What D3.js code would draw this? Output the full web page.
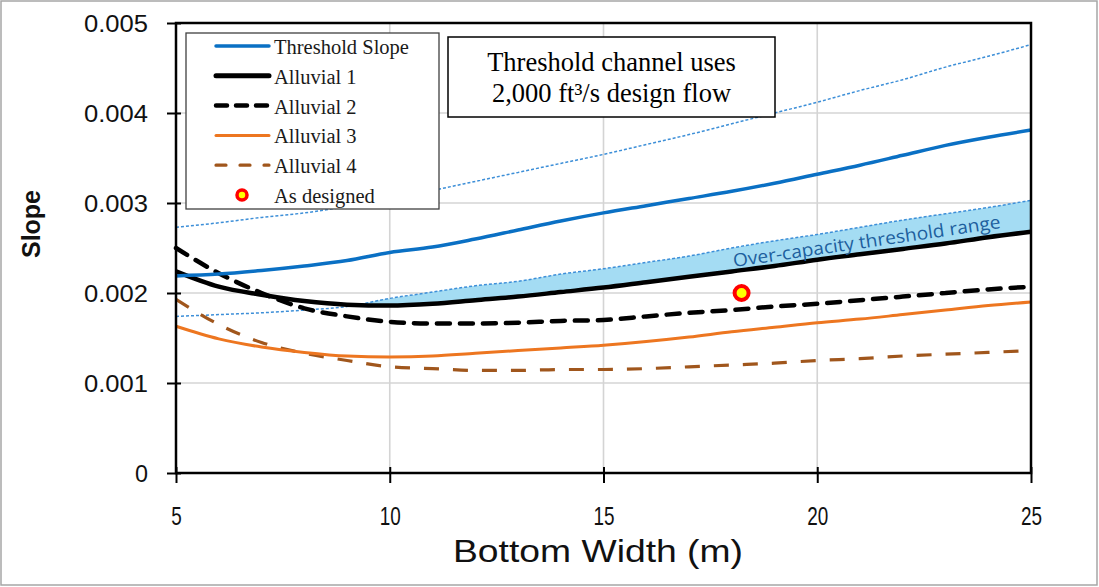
<!DOCTYPE html>
<html><head><meta charset="utf-8">
<script src="https://cdn.jsdelivr.net/npm/d3@7"></script>
<style>html,body{margin:0;padding:0;background:#fff;}svg{display:block;}</style>
</head><body>
<svg id="chart" width="1099" height="587"></svg>
<script>
// ---- data ----
const bottomWidth = [5,6,7,8,9,10,11,12,13,14,15,16,17,18,19,20,21,22,23,24,25];
const thresholdSlope = [0.00219,0.00221,0.00225,0.00230,0.00236,0.00245,0.00251,0.00260,0.00270,0.00280,0.00289,0.00297,0.00305,0.00313,0.00322,0.00332,0.00342,0.00353,0.00364,0.00373,0.00381];
const thresholdUpper = [0.00273,0.00278,0.00284,0.00289,0.00296,0.00305,0.00314,0.00324,0.00334,0.00344,0.00354,0.00365,0.00376,0.00388,0.00400,0.00412,0.00425,0.00437,0.00451,0.00463,0.00476];
const thresholdLower = [0.00174,0.00176,0.00178,0.00181,0.00185,0.00194,0.00201,0.00208,0.00213,0.00221,0.00227,0.00234,0.00241,0.00250,0.00258,0.00265,0.00273,0.00281,0.00288,0.00295,0.00303];
const alluvial1 = [0.00224,0.00207,0.00198,0.00191,0.00187,0.00186,0.00188,0.00192,0.00196,0.00201,0.00206,0.00212,0.00218,0.00224,0.00230,0.00237,0.00243,0.00249,0.00255,0.00262,0.00268];
const alluvial2 = [0.00250,0.00222,0.00200,0.00183,0.00174,0.00168,0.00166,0.00166,0.00167,0.00169,0.00170,0.00174,0.00178,0.00181,0.00185,0.00188,0.00192,0.00196,0.00200,0.00204,0.00207];
const alluvial3 = [0.00163,0.00149,0.00140,0.00134,0.00130,0.00129,0.00130,0.00133,0.00136,0.00139,0.00142,0.00146,0.00151,0.00157,0.00162,0.00167,0.00171,0.00176,0.00181,0.00186,0.00190];
const alluvial4 = [0.00193,0.00165,0.00145,0.00133,0.00125,0.00118,0.00116,0.00114,0.00114,0.00115,0.00115,0.00116,0.00118,0.00120,0.00122,0.00125,0.00127,0.00130,0.00132,0.00134,0.00136];
const asDesigned = [{x: 18.23, y: 0.0020}];
const xTicks = [5,10,15,20,25];
const yTicks = [0,0.001,0.002,0.003,0.004,0.005];
const legendLabels = ["Threshold Slope","Alluvial 1","Alluvial 2","Alluvial 3","Alluvial 4","As designed"];
const noteLines = ["Threshold channel uses","2,000 ft\u00B3/s design flow"];
const bandLabel = "Over-capacity threshold range";

// ---- layout ----
const svg = d3.select("#chart");
const L = 176, R = 1031, T = 23, B = 473;
const x = d3.scaleLinear().domain([5,25]).range([L,R]);
const y = d3.scaleLinear().domain([0,0.005]).range([B,T]);

// outer border
svg.append("rect").attr("x",1).attr("y",1).attr("width",1096).attr("height",584)
  .attr("fill","#fff").attr("stroke","#a6a6a6").attr("stroke-width",1.5);

// gridlines
const g = svg.append("g");
g.selectAll(".gx").data(xTicks.slice(1,-1)).join("line")
  .attr("x1",d=>x(d)).attr("x2",d=>x(d)).attr("y1",T).attr("y2",B)
  .attr("stroke","#d4d4d4").attr("stroke-width",1.6);
g.selectAll(".gy").data(yTicks.slice(1,-1)).join("line")
  .attr("y1",d=>y(d)).attr("y2",d=>y(d)).attr("x1",L).attr("x2",R)
  .attr("stroke","#d4d4d4").attr("stroke-width",1.6);

const idx = d3.range(bottomWidth.length);
const curve = d3.curveMonotoneX;

// shaded band between Alluvial 1 and lower threshold line
const band = d3.area().curve(curve)
  .x(i=>x(bottomWidth[i]))
  .y0(i=>y(alluvial1[i]))
  .y1(i=>y(Math.max(alluvial1[i], thresholdLower[i])));
g.append("path").attr("d", band(idx)).attr("fill","#a4dcf3");

function lineOf(arr){ return d3.line().curve(curve).x(i=>x(bottomWidth[i])).y(i=>y(arr[i]))(idx); }

// thin dotted threshold bounds
[thresholdUpper, thresholdLower].forEach(a=>{
  g.append("path").attr("d",lineOf(a)).attr("fill","none")
   .attr("stroke","#3d8fd8").attr("stroke-width",1.5).attr("stroke-dasharray","3,2");
});

const series = [
  {data: alluvial4, color:"#a0561c", w:3.2, dash:"15,14", cap:"butt"},
  {data: alluvial3, color:"#ed7620", w:3, dash:null, cap:"butt"},
  {data: alluvial2, color:"#000", w:4.5, dash:"13,10", cap:"round"},
  {data: alluvial1, color:"#000", w:4.5, dash:null, cap:"butt"},
  {data: thresholdSlope, color:"#0a70c4", w:3.5, dash:null, cap:"butt"}
];
series.forEach(s=>{
  g.append("path").attr("d",lineOf(s.data)).attr("fill","none")
   .attr("stroke",s.color).attr("stroke-width",s.w)
   .attr("stroke-dasharray",s.dash).attr("stroke-linecap",s.cap).attr("stroke-linejoin","round");
});

// band label
const lx = 734, ly = 267, ang = -8.3;
g.append("text").attr("transform",`translate(${lx},${ly}) rotate(${ang})`)
  .attr("font-family","Open Sans, Liberation Sans, sans-serif").attr("font-size",18)
  .attr("fill","#1d5f9e").attr("textLength",270).attr("lengthAdjust","spacingAndGlyphs")
  .text(bandLabel);

// as designed point
g.selectAll(".pt").data(asDesigned).join("circle")
  .attr("cx",d=>x(d.x)).attr("cy",d=>y(d.y)).attr("r",7)
  .attr("fill","#ffff00").attr("stroke","#ff0000").attr("stroke-width",4);

// plot frame
svg.append("rect").attr("x",L).attr("y",T).attr("width",R-L).attr("height",B-T)
  .attr("fill","none").attr("stroke","#000").attr("stroke-width",2.5);

// axes
const xAxis = svg.append("g").attr("transform",`translate(0,${B})`)
  .call(d3.axisBottom(x).tickValues(xTicks).tickSize(0).tickFormat(d3.format("d")));
xAxis.select(".domain").remove();
xAxis.selectAll(".tick line").attr("y1",-6).attr("y2",10).attr("stroke","#000").attr("stroke-width",2);
xAxis.selectAll(".tick text").attr("y",52).attr("dy",0)
  .attr("font-family","Liberation Sans, Arial, sans-serif").attr("font-size",26).attr("fill","#111")
  .attr("textLength",d=>String(d).length*10.5).attr("lengthAdjust","spacingAndGlyphs");

const yAxis = svg.append("g").attr("transform",`translate(${L},0)`)
  .call(d3.axisLeft(y).tickValues(yTicks).tickSize(0).tickFormat(d=>d===0?"0":d3.format(".3f")(d)));
yAxis.select(".domain").remove();
yAxis.selectAll(".tick line").attr("x1",-9).attr("x2",5).attr("stroke","#000").attr("stroke-width",2);
yAxis.selectAll(".tick text").attr("x",-28).attr("dy","0.36em")
  .attr("font-family","Liberation Sans, Arial, sans-serif").attr("font-size",23).attr("fill","#111")
  .attr("textLength",d=>d===0?13:64).attr("lengthAdjust","spacingAndGlyphs");

// axis titles
svg.append("text").attr("x",598).attr("y",562).attr("text-anchor","middle")
  .attr("font-family","Liberation Sans, Arial, sans-serif").attr("font-size",31).attr("fill","#111")
  .attr("textLength",290).attr("lengthAdjust","spacingAndGlyphs").text("Bottom Width (m)");
svg.append("text").attr("transform","translate(40,224) rotate(-90)").attr("text-anchor","middle")
  .attr("font-family","Liberation Sans, Arial, sans-serif").attr("font-size",25).attr("font-weight","bold")
  .attr("fill","#111").attr("textLength",68).attr("lengthAdjust","spacingAndGlyphs").text("Slope");

// legend
const lg = svg.append("g");
lg.append("rect").attr("x",186).attr("y",33).attr("width",253).attr("height",176)
  .attr("fill","#fff").attr("stroke","#404040").attr("stroke-width",1.3);
const legendStyles = [
  {color:"#0a70c4", w:3.5, dash:null, cap:"round"},
  {color:"#000", w:5, dash:null, cap:"round"},
  {color:"#000", w:4.5, dash:"11,9", cap:"round"},
  {color:"#ed7620", w:3, dash:null, cap:"round"},
  {color:"#a0561c", w:3.2, dash:"10,14", cap:"round"},
  null
];
legendLabels.forEach((lab,i)=>{
  const cy = 46 + i*29.8;
  const st = legendStyles[i];
  if(st){
    lg.append("line").attr("x1",216).attr("x2",269).attr("y1",cy).attr("y2",cy)
      .attr("stroke",st.color).attr("stroke-width",st.w).attr("stroke-dasharray",st.dash)
      .attr("stroke-linecap",st.cap);
  } else {
    lg.append("circle").attr("cx",242).attr("cy",cy).attr("r",5)
      .attr("fill","#ffff00").attr("stroke","#ff0000").attr("stroke-width",3.5);
  }
  lg.append("text").attr("x",274).attr("y",cy+8)
    .attr("font-family","Liberation Serif, Times New Roman, serif").attr("font-size",20.5).attr("fill","#1a1a1a")
    .text(lab);
});

// note box
const nb = svg.append("g");
nb.append("rect").attr("x",448).attr("y",37).attr("width",327).attr("height",80)
  .attr("fill","#fff").attr("stroke","#000").attr("stroke-width",1.5);
noteLines.forEach((t,i)=>{
  nb.append("text").attr("x",611.5).attr("y",71+i*31).attr("text-anchor","middle")
    .attr("font-family","Liberation Serif, Times New Roman, serif").attr("font-size",26.5).attr("fill","#000")
    .text(t);
});
</script>
</body></html>
